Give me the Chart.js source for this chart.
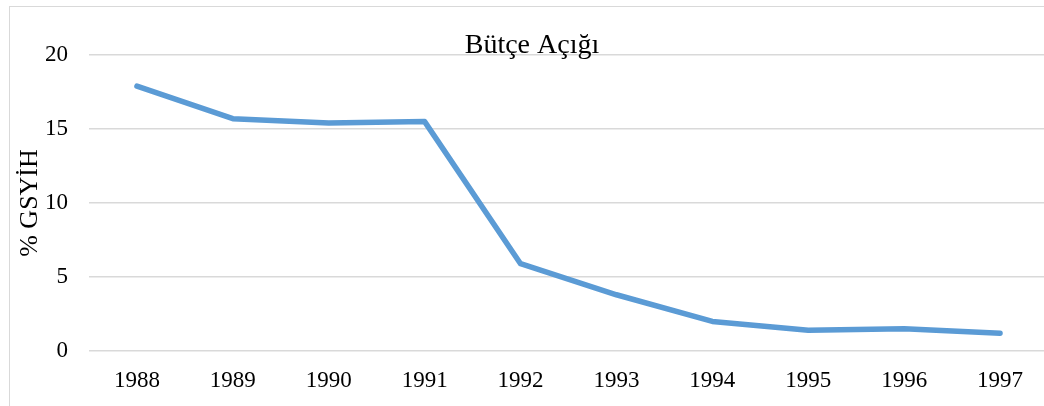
<!DOCTYPE html>
<html>
<head>
<meta charset="utf-8">
<script src="https://cdn.jsdelivr.net/npm/chart.js@4"></script>
<style>
html,body{margin:0;padding:0;background:#fff;overflow:hidden;}
#wrap{width:1056px;height:406px;position:relative;}
</style>
</head>
<body>
<div id="wrap"><canvas id="c" width="1056" height="406"></canvas></div>
<script>
const years = ['1988','1989','1990','1991','1992','1993','1994','1995','1996','1997'];
const deficit = [17.9, 15.7, 15.4, 15.5, 5.9, 3.8, 2.0, 1.4, 1.5, 1.2];
const yTicks = [0, 5, 10, 15, 20];
const chartTitle = 'Bütçe Açığı';
const yLabel = '% GSYİH';

const serif = "'Liberation Serif', 'Times New Roman', serif";

const decor = {
  id: 'decor',
  beforeDraw(chart) {
    const ctx = chart.ctx;
    ctx.save();
    ctx.fillStyle = '#fff';
    ctx.fillRect(0, 0, chart.width, chart.height);
    ctx.strokeStyle = '#D9D9D9';
    ctx.lineWidth = 1;
    ctx.strokeRect(9.5, 6.5, 1100, 500);
    ctx.restore();
  },
  afterDraw(chart) {
    const ctx = chart.ctx;
    ctx.save();
    ctx.fillStyle = '#000';
    ctx.font = '28px ' + serif;
    ctx.textAlign = 'center';
    ctx.textBaseline = 'alphabetic';
    ctx.fillText(chartTitle, 532, 53);
    ctx.restore();
  }
};

new Chart(document.getElementById('c'), {
  type: 'line',
  data: {
    labels: years,
    datasets: [{
      data: deficit,
      borderColor: '#5B9BD5',
      backgroundColor: '#5B9BD5',
      borderWidth: 5.5,
      pointRadius: 0,
      tension: 0,
      borderCapStyle: 'round',
      borderJoinStyle: 'round'
    }]
  },
  options: {
    responsive: false,
    animation: false,
    events: [],
    layout: { padding: { top: 55, left: 0, right: 8, bottom: 0 } },
    plugins: { legend: { display: false }, tooltip: { enabled: false }, title: { display: false } },
    scales: {
      x: {
        offset: true,
        grid: { display: false, drawTicks: false },
        border: { display: false },
        ticks: { color: '#000', font: { family: serif, size: 23 }, padding: 16, maxRotation: 0, autoSkip: false },
        afterFit(s) { s.height = 55; }
      },
      y: {
        min: 0, max: 20,
        afterBuildTicks(s) { s.ticks = yTicks.map(v => ({ value: v })); },
        grid: { color: '#D9D9D9', lineWidth: 1.5, drawTicks: false },
        border: { display: false },
        ticks: { color: '#000', font: { family: serif, size: 23 }, padding: 21 },
        title: { display: true, text: yLabel, color: '#000', font: { family: serif, size: 26 }, padding: { top: 15, bottom: 0 } },
        afterFit(s) { s.width = 89; }
      }
    }
  },
  plugins: [decor]
});
</script>
</body>
</html>
